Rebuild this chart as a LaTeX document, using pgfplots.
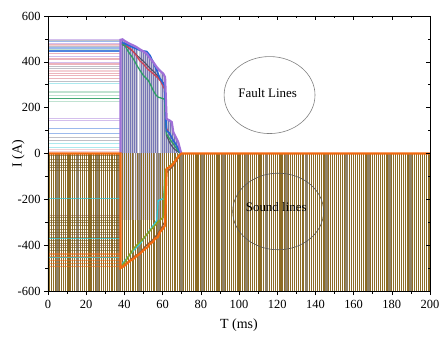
\documentclass[border=0pt]{standalone}
\usepackage{pgfplots}
\pgfplotsset{compat=1.18}
\usepackage{fontspec}
\setmainfont{Liberation Serif}

\definecolor{stripe}{HTML}{8C6C26}
\definecolor{band}{HTML}{908268}
\definecolor{hatchA}{HTML}{7676B4}
\definecolor{hatchB}{HTML}{C4C4D8}
\definecolor{lav}{HTML}{A8A8D8}
\definecolor{fpurple}{HTML}{A070D8}
\definecolor{fblue}{HTML}{2466D6}
\definecolor{fgreen}{HTML}{2FA066}
\definecolor{fred}{HTML}{D04458}
\definecolor{fgrey}{HTML}{505064}
\definecolor{sorange}{HTML}{F26A10}
\definecolor{sbrown}{HTML}{8A5A3A}
\definecolor{solive}{HTML}{8FA020}
\definecolor{scyan}{HTML}{30C8D8}

\begin{document}
\begin{tikzpicture}
  \begin{axis}[
      name=main,
      scale only axis,
      width=382bp, height=275bp,
      xmin=0, xmax=200, ymin=-600, ymax=600,
      xtick={0,20,...,200}, ytick={-600,-400,...,600},
      minor x tick num=1, minor y tick num=1,
      xtick pos=left, ytick pos=left,
      tick align=outside,
      major tick length=4bp, minor tick length=2.5bp,
      axis line style={line width=0.8bp},
      tick style={black, line width=0.6bp},
      axis on top,
      unbounded coords=jump,
      tick label style={font=\fontsize{12.5}{14}\selectfont},
      x tick label style={yshift=-1.5bp},
      /pgf/number format/assume math mode=true,
      xlabel={T (ms)}, ylabel={I (A)},
      label style={font=\fontsize{14}{16}\selectfont},
      xlabel style={at={(axis description cs:0.5,0)}, anchor=center, yshift=-34bp},
      ylabel style={at={(axis description cs:-0.078,0.5)}, anchor=center},
    ]
    % sound lines: vertical stripes below zero
    \addplot[ycomb, no markers, draw=stripe, line width=1.05bp] coordinates {
      (0,-600) (1,-600) (2,-600) (3,-600) (4,-600) (5,-600) (6,-600) (7,-600) (8,-600) (9,-600)
      (10,-600) (11,-600) (12,-600) (13,-600) (14,-600) (15,-600) (16,-600) (17,-600) (18,-600) (19,-600)
      (20,-600) (21,-600) (22,-600) (23,-600) (24,-600) (25,-600) (26,-600) (27,-600) (28,-600) (29,-600)
      (30,-600) (31,-600) (32,-600) (33,-600) (34,-600) (35,-600) (36,-600) (37,-600) (38,-600) (39,-600)
      (40,-600) (41,-600) (42,-600) (43,-600) (44,-600) (45,-600) (46,-600) (47,-600) (48,-600) (49,-600)
      (50,-600) (51,-600) (52,-600) (53,-600) (54,-600) (55,-600) (56,-600) (57,-600) (58,-600) (59,-600)
      (60,-600) (61,-600) (62,-600) (63,-600) (64,-600) (65,-600) (66,-600) (67,-600) (68,-600) (69,-600)
      (70,-600) (71,-600) (72,-600) (73,-600) (74,-600) (75,-600) (76,-600) (77,-600) (78,-600) (79,-600)
      (80,-600) (81,-600) (82,-600) (83,-600) (84,-600) (85,-600) (86,-600) (87,-600) (88,-600) (89,-600)
      (90,-600) (91,-600) (92,-600) (93,-600) (94,-600) (95,-600) (96,-600) (97,-600) (98,-600) (99,-600)
      (100,-600) (101,-600) (102,-600) (103,-600) (104,-600) (105,-600) (106,-600) (107,-600) (108,-600) (109,-600)
      (110,-600) (111,-600) (112,-600) (113,-600) (114,-600) (115,-600) (116,-600) (117,-600) (118,-600) (119,-600)
      (120,-600) (121,-600) (122,-600) (123,-600) (124,-600) (125,-600) (126,-600) (127,-600) (128,-600) (129,-600)
      (130,-600) (131,-600) (132,-600) (133,-600) (134,-600) (135,-600) (136,-600) (137,-600) (138,-600) (139,-600)
      (140,-600) (141,-600) (142,-600) (143,-600) (144,-600) (145,-600) (146,-600) (147,-600) (148,-600) (149,-600)
      (150,-600) (151,-600) (152,-600) (153,-600) (154,-600) (155,-600) (156,-600) (157,-600) (158,-600) (159,-600)
      (160,-600) (161,-600) (162,-600) (163,-600) (164,-600) (165,-600) (166,-600) (167,-600) (168,-600) (169,-600)
      (170,-600) (171,-600) (172,-600) (173,-600) (174,-600) (175,-600) (176,-600) (177,-600) (178,-600) (179,-600)
      (180,-600) (181,-600) (182,-600) (183,-600) (184,-600) (185,-600) (186,-600) (187,-600) (188,-600) (189,-600)
      (190,-600) (191,-600) (192,-600) (193,-600) (194,-600) (195,-600) (196,-600) (197,-600) (198,-600) (199,-600)
      (200,-600)
    };
    \addplot[ycomb, no markers, draw=band, line width=3bp] coordinates {
      (5,-600) (15.5,-600) (26,-600) (37,-600) (48,-600) (58,-600) (70,-600) (81,-600) (92,-600)
      (104,-600) (114.5,-600) (125,-600) (135.5,-600) (146,-600) (156.5,-600) (168,-600) (179,-600) (190,-600)
    };
    % fault-line hatch extending below zero
    \addplot[ycomb, no markers, draw=lav, opacity=0.45, line width=0.7bp] coordinates {
      (38.5,-290) (39.5,-290) (40.5,-290) (41.5,-290) (42.5,-290) (43.5,-290) (44.5,-290) (45.5,-290)
      (46.5,-290) (47.5,-290) (48.5,-290) (49.5,-290) (50.5,-290) (51.5,-290) (52.5,-290) (53.5,-290)
      (54.5,-290) (55.5,-290) (56.5,-290) (57.5,-290) (58.5,-290) (59.5,-290) (60.5,-290)
    };
    % fault lines: vertical hatch above zero
    \addplot[ycomb, no markers, draw=hatchA, line width=0.6bp] coordinates {
      (38,494) (39,495) (40,489) (41,484) (42,479) (43,475) (44,471) (45,467) (46,463) (47,458)
      (48,452) (49,446) (50,442) (51,436) (52,430) (53,418) (54,406) (55,394) (56,383) (57,374)
      (58,364) (59,355) (60,348) (61,336) (62,148) (63,144) (64,139) (65,118) (66,86) (67,70)
      (68,50) (69,23)
    };
    \addplot[ycomb, no markers, draw=hatchB, line width=0.3bp] coordinates {
      (38.5,496) (39.5,492) (40.5,486) (41.5,482) (42.5,477) (43.5,473) (44.5,469) (45.5,465)
      (46.5,461) (47.5,455) (48.5,449) (49.5,444) (50.5,439) (51.5,434) (52.5,424) (53.5,412)
      (54.5,400) (55.5,388) (56.5,378) (57.5,369) (58.5,359) (59.5,351) (60.5,344) (61.5,240)
      (62.5,146) (63.5,142) (64.5,136) (65.5,93) (66.5,78) (67.5,60) (68.5,38) (69.5,8)
    };
    % fault lines before 38 ms
    \addplot[no markers, draw=fpurple, opacity=0.45, line width=1.3bp] coordinates {
      (0,496) (38,496) (19,nan) (0,481) (38,481) (19,nan) (0,423) (38,423) (19,nan)
      (0,398) (38,398) (19,nan) (0,153) (38,153) (19,nan) (0,144) (38,144)
    };
    \addplot[no markers, draw=fblue, opacity=0.45, line width=1.2bp] coordinates {
      (0,487) (38,487) (19,nan) (0,460) (38,460) (19,nan) (0,108) (38,108) (19,nan) (0,86) (38,86)
    };
    \addplot[no markers, draw=fblue, opacity=0.8, line width=1.2bp] coordinates {(0,447) (38,447)};
    \addplot[no markers, draw=fred, opacity=0.4, line width=1.3bp] coordinates {
      (0,476) (38,476) (19,nan) (0,437) (38,437) (19,nan) (0,413) (38,413) (19,nan)
      (0,391) (38,391) (19,nan) (0,348) (38,348) (19,nan) (0,340) (38,340) (19,nan) (0,327) (38,327)
    };
    \addplot[no markers, draw=fgrey!80, opacity=0.45, line width=1.2bp] coordinates {
      (0,492) (38,492) (19,nan) (0,466) (38,466) (19,nan) (0,380) (38,380) (19,nan)
      (0,370) (38,370) (19,nan) (0,313) (38,313) (19,nan) (0,71) (38,71) (19,nan) (0,57) (38,57)
    };
    \addplot[no markers, draw=fgreen, opacity=0.3, line width=1.3bp] coordinates {
      (0,268) (38,268) (19,nan) (0,253) (38,253) (19,nan) (0,226) (38,226) (19,nan) (0,455) (38,455)
    };
    \addplot[no markers, draw=fgreen, opacity=0.9, line width=1bp] coordinates {(0,239) (38,239)};
    \addplot[no markers, draw=scyan, opacity=0.4, line width=1.2bp] coordinates {
      (0,305) (38,305) (19,nan) (0,42) (38,42) (19,nan) (0,27) (38,27)
    };
    \addplot[no markers, draw=fred!50, opacity=0.5, line width=1.2bp] coordinates {
      (0,470) (38,470) (19,nan) (0,360) (38,360) (19,nan) (0,18) (38,18) (19,nan) (0,8) (38,8)
    };
    % sound lines before 38 ms
    \addplot[no markers, draw=stripe!85!black, opacity=0.6, line width=1.2bp] coordinates {
      (0,-10) (38,-10) (19,nan) (0,-25) (38,-25) (19,nan) (0,-40) (38,-40) (19,nan)
      (0,-52) (38,-52) (19,nan) (0,-62) (38,-62) (19,nan) (0,-75) (38,-75) (19,nan)
      (0,-278) (38,-278) (19,nan) (0,-293) (38,-293) (19,nan) (0,-300) (38,-300) (19,nan)
      (0,-314) (38,-314) (19,nan) (0,-330) (38,-330) (19,nan) (0,-345) (38,-345) (19,nan)
      (0,-365) (38,-365) (19,nan) (0,-380) (38,-380) (19,nan) (0,-394) (38,-394) (19,nan)
      (0,-410) (38,-410) (19,nan) (0,-425) (38,-425)
    };
    \addplot[no markers, draw=sorange, opacity=0.55, line width=1.3bp] coordinates {
      (0,-438) (38,-438) (19,nan) (0,-452) (38,-452) (19,nan) (0,-468) (38,-468) (19,nan)
      (0,-481) (38,-481) (19,nan) (0,-492) (38,-492)
    };
    \addplot[no markers, draw=scyan, opacity=0.7, line width=1bp] coordinates {
      (0,-198) (38,-198) (19,nan) (0,-372) (38,-372) (19,nan) (0,-455) (38,-455)
    };
    \addplot[no markers, draw=sbrown, opacity=0.5, line width=1bp] coordinates {
      (0,-270) (38,-270) (19,nan) (0,-355) (38,-355) (19,nan) (0,-400) (38,-400)
    };
    % fault-line currents
    \addplot[no markers, draw=fgrey, line width=1.1bp] coordinates {
      (39,475) (42,462) (45,442) (47,425) (50,402) (53,376) (56,352) (59,322) (61,302)
      (62,80) (64,42) (66,20) (68,8) (69.5,0)
    };
    \addplot[no markers, draw=fred, line width=1.3bp] coordinates {
      (38.5,480) (41,470) (43.5,455) (46,430) (48,405) (49.9,391) (52,370) (55.1,348)
      (57.5,330) (59,315) (60.4,290) (61,282) (62,110) (64,80) (66,50) (68,25) (69.5,0)
    };
    \addplot[no markers, draw=fgreen, line width=1.3bp] coordinates {
      (38.5,478) (40.3,471) (42,445) (44.7,413) (46.5,385) (48.2,362) (50,340) (52.5,319)
      (54,295) (55.1,275) (56.5,255) (57.7,246) (60.4,239) (61,235) (62,86) (64,60)
      (65.6,42) (67,25) (69,3)
    };
    \addplot[no markers, draw=fblue, line width=1.6bp] coordinates {
      (38.5,485) (40.3,479) (42,472) (44,465) (46,458) (48.2,450) (51.7,445) (53.4,428)
      (55,400) (56.9,364) (58.5,330) (60.4,304) (61,295) (62,100) (63.5,90) (65.6,56)
      (67,40) (69.1,5)
    };
    \addplot[no markers, draw=fpurple, line width=2.2bp] coordinates {
      (38,0) (38,496) (39,498) (40,492) (42,482) (44,474) (46.4,464) (48,455) (50,445)
      (51.7,435) (53,420) (55,400) (56.9,377) (58.5,362) (60.4,348) (61.3,333) (62.1,151)
      (63.5,145) (64.8,137) (65.6,93) (67,70) (68.2,49) (69.1,20) (69.8,0)
    };
    % sound-line currents
    \addplot[no markers, draw=scyan, line width=1.3bp] coordinates {
      (38.5,-485) (41,-460) (44,-430) (48.2,-394) (52,-350) (56.9,-293) (57.7,-205)
      (60.4,-197) (61,-150) (61.5,-80) (63,-65) (65,-48) (67,-25) (69,0)
    };
    \addplot[no markers, draw=sbrown, line width=1.3bp] coordinates {
      (38.5,-495) (41,-480) (43,-465) (45,-450) (47,-440) (49,-425) (51,-405) (53,-390)
      (55,-375) (57,-355) (59,-330) (61,-300) (61.5,-90) (63,-75) (65,-60) (67,-35)
      (69,-10) (70,0)
    };
    \addplot[no markers, draw=solive, line width=1.5bp] coordinates {
      (38.5,-490) (40.3,-474) (42.5,-445) (44.7,-416) (47,-395) (49.9,-372) (52,-350)
      (55.1,-322) (57.5,-300) (60.4,-278) (61.3,-74) (63,-60) (65,-45) (68.2,-16) (69.5,0)
    };
    \addplot[no markers, draw=sorange, line width=2.2bp] coordinates {
      (0,0) (38,0) (38,-500) (40,-490) (42,-475) (43,-468) (44.7,-460) (46,-450) (48,-438)
      (49,-430) (50.8,-416) (52,-410) (53.4,-394) (55,-385) (56,-372) (57.5,-365)
      (58.6,-343) (60,-330) (61.3,-314) (62.1,-67) (63.5,-60) (64.8,-52) (66,-40)
      (67.4,-23) (69,-5) (70,0) (200,0)
    };
    % annotations
    \draw[gray, line width=0.6bp] (axis cs:116,255) ellipse [x radius=23.8, y radius=168];
    \node at (axis cs:115,262) {\fontsize{13}{15}\selectfont Fault Lines};
    \draw[gray!70!black, line width=0.6bp] (axis cs:120.5,-253) ellipse [x radius=23.8, y radius=167];
    \node at (axis cs:119.5,-234) {\fontsize{13}{15}\selectfont Sound lines};
  \end{axis}
  \begin{axis}[
      scale only axis,
      width=382bp, height=275bp,
      xmin=0, xmax=200, ymin=-600, ymax=600,
      xtick={0,20,...,200}, ytick={-600,-400,...,600},
      minor x tick num=1, minor y tick num=1,
      xtick pos=right, ytick pos=right,
      xticklabels={}, yticklabels={},
      tick align=inside,
      major tick length=4bp, minor tick length=2.5bp,
      axis line style={line width=0.8bp},
      tick style={black, line width=0.6bp},
    ]
  \end{axis}
  \pgfresetboundingbox
  \path[use as bounding box] ([xshift=-48bp,yshift=-49bp]main.south west)
    rectangle ([xshift=13bp,yshift=16bp]main.north east);
\end{tikzpicture}
\end{document}
